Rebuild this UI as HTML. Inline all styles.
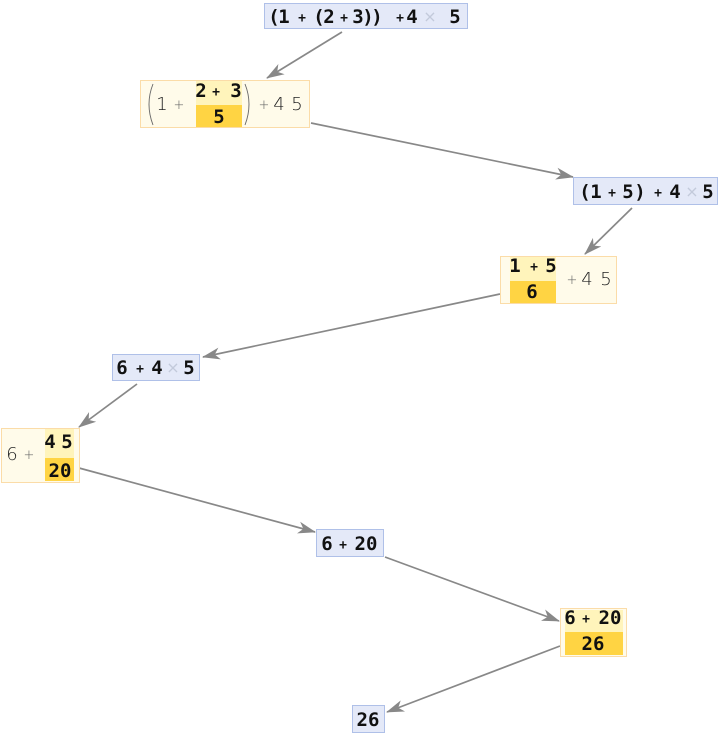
<!DOCTYPE html>
<html>
<head>
<meta charset="utf-8">
<style>
html,body{margin:0;padding:0;background:#fff;}
svg{display:block;}
.b{font-family:"DejaVu Sans Mono","Liberation Mono",monospace;font-weight:bold;fill:#111;text-anchor:middle;font-size:19px;}
.bp{font-family:"DejaVu Sans Mono","Liberation Mono",monospace;font-weight:bold;fill:#111;text-anchor:middle;font-size:13px;}
.x{font-family:"DejaVu Sans","Liberation Sans",sans-serif;fill:#c3cadb;text-anchor:middle;font-size:16px;}
.l{font-family:"DejaVu Sans ExtraLight","DejaVu Sans","Liberation Sans",sans-serif;font-weight:200;fill:#222;text-anchor:middle;font-size:18px;}
.lp{font-family:"DejaVu Sans ExtraLight","DejaVu Sans","Liberation Sans",sans-serif;font-weight:200;fill:#666;text-anchor:middle;font-size:13px;}
.blue{fill:#e4e9f8;stroke:#afc0e8;stroke-width:1;}
.yel{fill:#fffbea;stroke:#fbdca8;stroke-width:1;}
.ly{fill:#fff4bb;}
.dy{fill:#ffd443;}
.ar{stroke:#888;stroke-width:1.7;fill:none;marker-end:url(#ah);}
</style>
</head>
<body>
<svg width="720" height="736" viewBox="0 0 720 736" xmlns="http://www.w3.org/2000/svg">
<defs>
<marker id="ah" markerWidth="20" markerHeight="14" refX="17" refY="7" orient="auto" markerUnits="userSpaceOnUse">
<path d="M0,1 L18,7 L0,13 L5,7 Z" fill="#888"/>
</marker>
</defs>

<!-- arrows -->
<line class="ar" x1="342" y1="32" x2="267" y2="78"/>
<line class="ar" x1="311" y1="123" x2="573" y2="177"/>
<line class="ar" x1="632" y1="208" x2="585" y2="254"/>
<line class="ar" x1="500" y1="294" x2="203" y2="357"/>
<line class="ar" x1="137" y1="384" x2="79" y2="427"/>
<line class="ar" x1="79" y1="468" x2="315" y2="532"/>
<line class="ar" x1="385" y1="557" x2="559" y2="621"/>
<line class="ar" x1="560" y1="646" x2="387" y2="712"/>

<!-- Box 1 -->
<rect class="blue" x="264.5" y="3.5" width="203" height="25"/>
<text class="b" x="274" y="23">(</text>
<text class="b" x="284" y="23">1</text>
<text class="bp" x="302" y="22">+</text>
<text class="b" x="319" y="23">(</text>
<text class="b" x="329" y="23">2</text>
<text class="bp" x="344" y="22">+</text>
<text class="b" x="358" y="23">3</text>
<text class="b" x="368" y="23">)</text>
<text class="b" x="377" y="23">)</text>
<text class="bp" x="400" y="22">+</text>
<text class="b" x="412" y="23">4</text>
<text class="x" x="430" y="22">×</text>
<text class="b" x="455" y="23">5</text>

<!-- Box 2 -->
<rect class="yel" x="140.5" y="80.5" width="169" height="47"/>
<rect class="ly" x="196" y="81" width="46" height="24"/>
<rect class="dy" x="196" y="105" width="46" height="22"/>
<path d="M153,84 Q145,104 153,125" stroke="#666" stroke-width="0.9" fill="none"/>
<path d="M245,84 Q253,104 245,125" stroke="#666" stroke-width="0.9" fill="none"/>
<text class="l" x="162" y="110">1</text>
<text class="lp" x="179" y="109">+</text>
<text class="b" x="201" y="97">2</text>
<text class="bp" x="216" y="96">+</text>
<text class="b" x="236" y="97">3</text>
<text class="b" x="219" y="123">5</text>
<text class="lp" x="264" y="109">+</text>
<text class="l" x="279" y="110">4</text>
<text class="l" x="297" y="110">5</text>

<!-- Box 3 -->
<rect class="blue" x="573.5" y="177.5" width="144" height="27"/>
<text class="b" x="585" y="198">(</text>
<text class="b" x="596" y="198">1</text>
<text class="bp" x="612" y="197">+</text>
<text class="b" x="628" y="198">5</text>
<text class="b" x="640" y="198">)</text>
<text class="bp" x="658" y="197">+</text>
<text class="b" x="675" y="198">4</text>
<text class="x" x="692" y="197">×</text>
<text class="b" x="708" y="198">5</text>

<!-- Box 4 -->
<rect class="yel" x="500.5" y="256.5" width="116" height="47"/>
<rect class="ly" x="510" y="257" width="46" height="24"/>
<rect class="dy" x="510" y="281" width="46" height="22"/>
<text class="b" x="515" y="272">1</text>
<text class="bp" x="534" y="271">+</text>
<text class="b" x="551" y="272">5</text>
<text class="b" x="532" y="298">6</text>
<text class="lp" x="572" y="284">+</text>
<text class="l" x="587" y="285">4</text>
<text class="l" x="606" y="285">5</text>

<!-- Box 5 -->
<rect class="blue" x="112.5" y="354.5" width="87" height="26"/>
<text class="b" x="122" y="374">6</text>
<text class="bp" x="140" y="373">+</text>
<text class="b" x="157" y="374">4</text>
<text class="x" x="173" y="373">×</text>
<text class="b" x="189" y="374">5</text>

<!-- Box 6 -->
<rect class="yel" x="1.5" y="428.5" width="78" height="54"/>
<rect class="ly" x="45" y="429" width="29" height="29"/>
<rect class="dy" x="45" y="458" width="29" height="23"/>
<text class="l" x="12" y="460">6</text>
<text class="lp" x="29" y="459">+</text>
<text class="b" x="50" y="448">4</text>
<text class="b" x="67" y="448">5</text>
<text class="b" x="60" y="477">20</text>

<!-- Box 7 -->
<rect class="blue" x="316.5" y="529.5" width="67" height="27"/>
<text class="b" x="327" y="550">6</text>
<text class="bp" x="343" y="549">+</text>
<text class="b" x="366" y="550">20</text>

<!-- Box 8 -->
<rect class="yel" x="560.5" y="608.5" width="66" height="48"/>
<rect class="ly" x="565" y="610" width="58" height="22"/>
<rect class="dy" x="565" y="632" width="58" height="23"/>
<text class="b" x="570" y="624">6</text>
<text class="bp" x="586" y="623">+</text>
<text class="b" x="610" y="624">20</text>
<text class="b" x="593" y="650">26</text>

<!-- Box 9 -->
<rect class="blue" x="352.5" y="705.5" width="32" height="27"/>
<text class="b" x="368" y="726">26</text>
</svg>
</body>
</html>
